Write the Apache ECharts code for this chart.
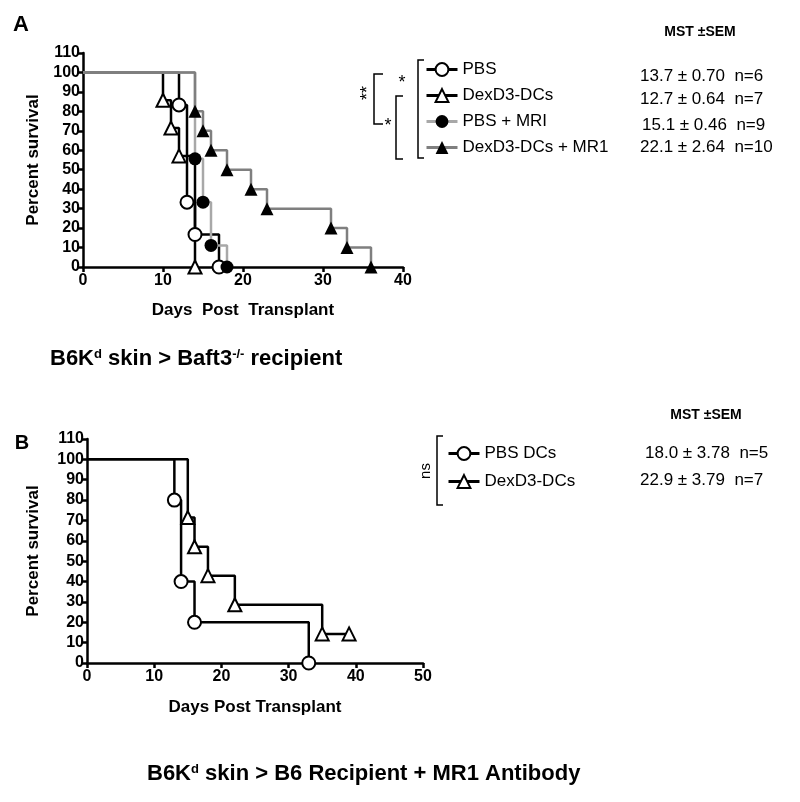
<!DOCTYPE html>
<html>
<head>
<meta charset="utf-8">
<script src="https://cdn.jsdelivr.net/npm/echarts@6/dist/echarts.min.js"></script>
<style>html,body{margin:0;padding:0;background:#fff}#c{width:800px;height:802px}</style>
</head>
<body>
<div id="c"></div>
<script>
// ---- Panel A data ----
const aPBSDays = [0, 12, 13, 14, 17];
const aPBSSurv = [100, 83.3, 33.3, 16.7, 0];
const aDexDays = [0, 10, 11, 12, 14];
const aDexSurv = [100, 85.7, 71.4, 57.1, 0];
const aPBSMRIDays = [0, 14, 15, 16, 18];
const aPBSMRISurv = [100, 55.6, 33.3, 11.1, 0];
const aDexMR1Days = [0, 14, 15, 16, 18, 21, 23, 31, 33, 36];
const aDexMR1Surv = [100, 80, 70, 60, 50, 40, 30, 20, 10, 0];
const aNames = ['PBS', 'DexD3-DCs', 'PBS + MRI', 'DexD3-DCs + MR1'];
const aMST = ['13.7 ± 0.70  n=6', '12.7 ± 0.64  n=7', '15.1 ± 0.46  n=9', '22.1 ± 2.64  n=10'];

// ---- Panel B data ----
const bPBSDays = [0, 13, 14, 16, 33];
const bPBSSurv = [100, 80, 40, 20, 0];
const bDexDays = [0, 15, 16, 18, 22, 35, 39];
const bDexSurv = [100, 71.4, 57.1, 42.9, 28.6, 14.3, 14.3];
const bNames = ['PBS DCs', 'DexD3-DCs'];
const bMST = ['18.0 ± 3.78  n=5', '22.9 ± 3.79  n=7'];

const yTicksMax = 110;
const aXMax = 40, bXMax = 50;

const FONT = 'Liberation Sans, Arial, sans-serif';

function pts(days, surv) {
  return days.map((d, i) => i === 0 ? {value: [d, surv[i]], symbol: 'none'} : [d, surv[i]]);
}

function mkSeries(name, days, surv, idx, symbol, fill, lineColor) {
  return {
    name: name, type: 'line', step: 'end',
    xAxisIndex: idx, yAxisIndex: idx,
    data: pts(days, surv),
    symbol: symbol, symbolSize: 13, showSymbol: true,
    lineStyle: {color: lineColor, width: 2.5},
    itemStyle: {color: fill, borderColor: '#000', borderWidth: fill === '#fff' ? 2 : 0},
    clip: false, animation: false, z: 3
  };
}

function xAx(idx, max, name, gap) {
  return {
    gridIndex: idx, type: 'value', min: 0, max: max, interval: 10,
    name: name, nameLocation: 'middle', nameGap: gap,
    nameTextStyle: {fontFamily: FONT, fontWeight: 'bold', fontSize: 17, color: '#000'},
    axisLine: {onZero: false, lineStyle: {color: '#000', width: 2.5}},
    axisTick: {length: 5, lineStyle: {color: '#000', width: 2.5}},
    axisLabel: {fontFamily: FONT, fontWeight: 'bold', fontSize: 16, color: '#000', margin: 6},
    splitLine: {show: false}
  };
}
function yAx(idx, gap) {
  return {
    gridIndex: idx, type: 'value', min: 0, max: yTicksMax, interval: 10,
    name: 'Percent survival', nameLocation: 'middle', nameGap: gap,
    nameTextStyle: {fontFamily: FONT, fontWeight: 'bold', fontSize: 17, color: '#000'},
    axisLine: {show: true, onZero: false, lineStyle: {color: '#000', width: 2.5}},
    axisTick: {show: true, length: 5, lineStyle: {color: '#000', width: 2.5}},
    axisLabel: {fontFamily: FONT, fontWeight: 'bold', fontSize: 16, color: '#000', margin: 3},
    splitLine: {show: false}
  };
}

const bracket = (pts) => ({type: 'polyline', shape: {points: pts}, style: {stroke: '#000', lineWidth: 1.5, fill: null}});
const txt = (x, y, t, size, bold, align, extra) => Object.assign({
  type: 'text', x: x, y: y,
  style: {text: t, font: (bold ? 'bold ' : '') + size + 'px ' + FONT, fill: '#000', align: align || 'left', verticalAlign: 'middle'}
}, extra || {});

const graphics = [
  txt(21, 25, 'A', 22, true, 'center'),
  txt(22, 443, 'B', 20, true, 'center'),
  // Panel A brackets
  bracket([[424, 60], [418, 60], [418, 158], [424, 158]]),
  bracket([[403, 96], [396, 96], [396, 159], [403, 159]]),
  bracket([[383, 74], [374, 74], [374, 124], [383, 124]]),
  txt(402, 83, '*', 18, false, 'center'),
  txt(388, 126, '*', 18, false, 'center'),
  txt(368, 93, '**', 18, false, 'center', {rotation: Math.PI / 2}),
  txt(700, 32, 'MST ±SEM', 14, true, 'center'),
  // Panel B bracket
  bracket([[443, 436], [437, 436], [437, 505], [443, 505]]),
  txt(426, 471, 'ns', 15, false, 'center', {rotation: Math.PI / 2}),
  txt(706, 415, 'MST ±SEM', 14, true, 'center')
];
const aMSTy = [76, 99, 125, 147];
const aMSTx = [640, 640, 642, 640];
aMST.forEach((t, i) => graphics.push(txt(aMSTx[i], aMSTy[i], t, 17, false, 'left')));
const bMSTy = [453, 480];
const bMSTx = [645, 640];
bMST.forEach((t, i) => graphics.push(txt(bMSTx[i], bMSTy[i], t, 17, false, 'left')));

const richT = {
  b: {fontFamily: FONT, fontWeight: 'bold', fontSize: 22, color: '#000', verticalAlign: 'bottom'},
  s: {fontFamily: FONT, fontWeight: 'bold', fontSize: 13, color: '#000', verticalAlign: 'top', padding: [0, 0, 9, 0]}
};

const chart = echarts.init(document.getElementById('c'), null, {renderer: 'canvas'});
chart.setOption({
  animation: false,
  backgroundColor: '#fff',
  title: [
    {left: 45, top: 343, text: '{b|B6K}{s|d}{b| skin > Baft3}{s|-/-}{b| recipient}', textStyle: {rich: richT}},
    {left: 142, top: 758, text: '{b|B6K}{s|d}{b| skin > B6 Recipient + MR1 Antibody}', textStyle: {rich: richT}}
  ],
  grid: [
    {left: 83, top: 53, width: 320, height: 214},
    {left: 87, top: 439, width: 336, height: 224}
  ],
  xAxis: [xAx(0, aXMax, 'Days  Post  Transplant', 35), xAx(1, bXMax, 'Days Post Transplant', 36)],
  yAxis: [yAx(0, 41), yAx(1, 45)],
  legend: [
    {orient: 'vertical', left: 425, top: 61, padding: 0, itemWidth: 31, itemHeight: 16, itemGap: 9,
     lineStyle: {width: 3}, data: aNames, textStyle: {fontFamily: FONT, fontSize: 17, color: '#000'}, selectedMode: false},
    {orient: 'vertical', left: 447, top: 445, padding: 0, itemWidth: 31, itemHeight: 16, itemGap: 11,
     lineStyle: {width: 3}, data: ['PBS DCs', 'B:DexD3-DCs'], formatter: n => n.replace('B:', ''),
     textStyle: {fontFamily: FONT, fontSize: 17, color: '#000'}, selectedMode: false}
  ],
  graphic: graphics,
  series: [
    mkSeries(aNames[0], aPBSDays, aPBSSurv, 0, 'circle', '#fff', '#000'),
    mkSeries(aNames[1], aDexDays, aDexSurv, 0, 'triangle', '#fff', '#000'),
    mkSeries(aNames[2], aPBSMRIDays, aPBSMRISurv, 0, 'circle', '#000', '#a8a8a8'),
    mkSeries(aNames[3], aDexMR1Days, aDexMR1Surv, 0, 'triangle', '#000', '#7f7f7f'),
    mkSeries('PBS DCs', bPBSDays, bPBSSurv, 1, 'circle', '#fff', '#000'),
    mkSeries('B:DexD3-DCs', bDexDays, bDexSurv, 1, 'triangle', '#fff', '#000')
  ]
});
</script>
</body>
</html>
